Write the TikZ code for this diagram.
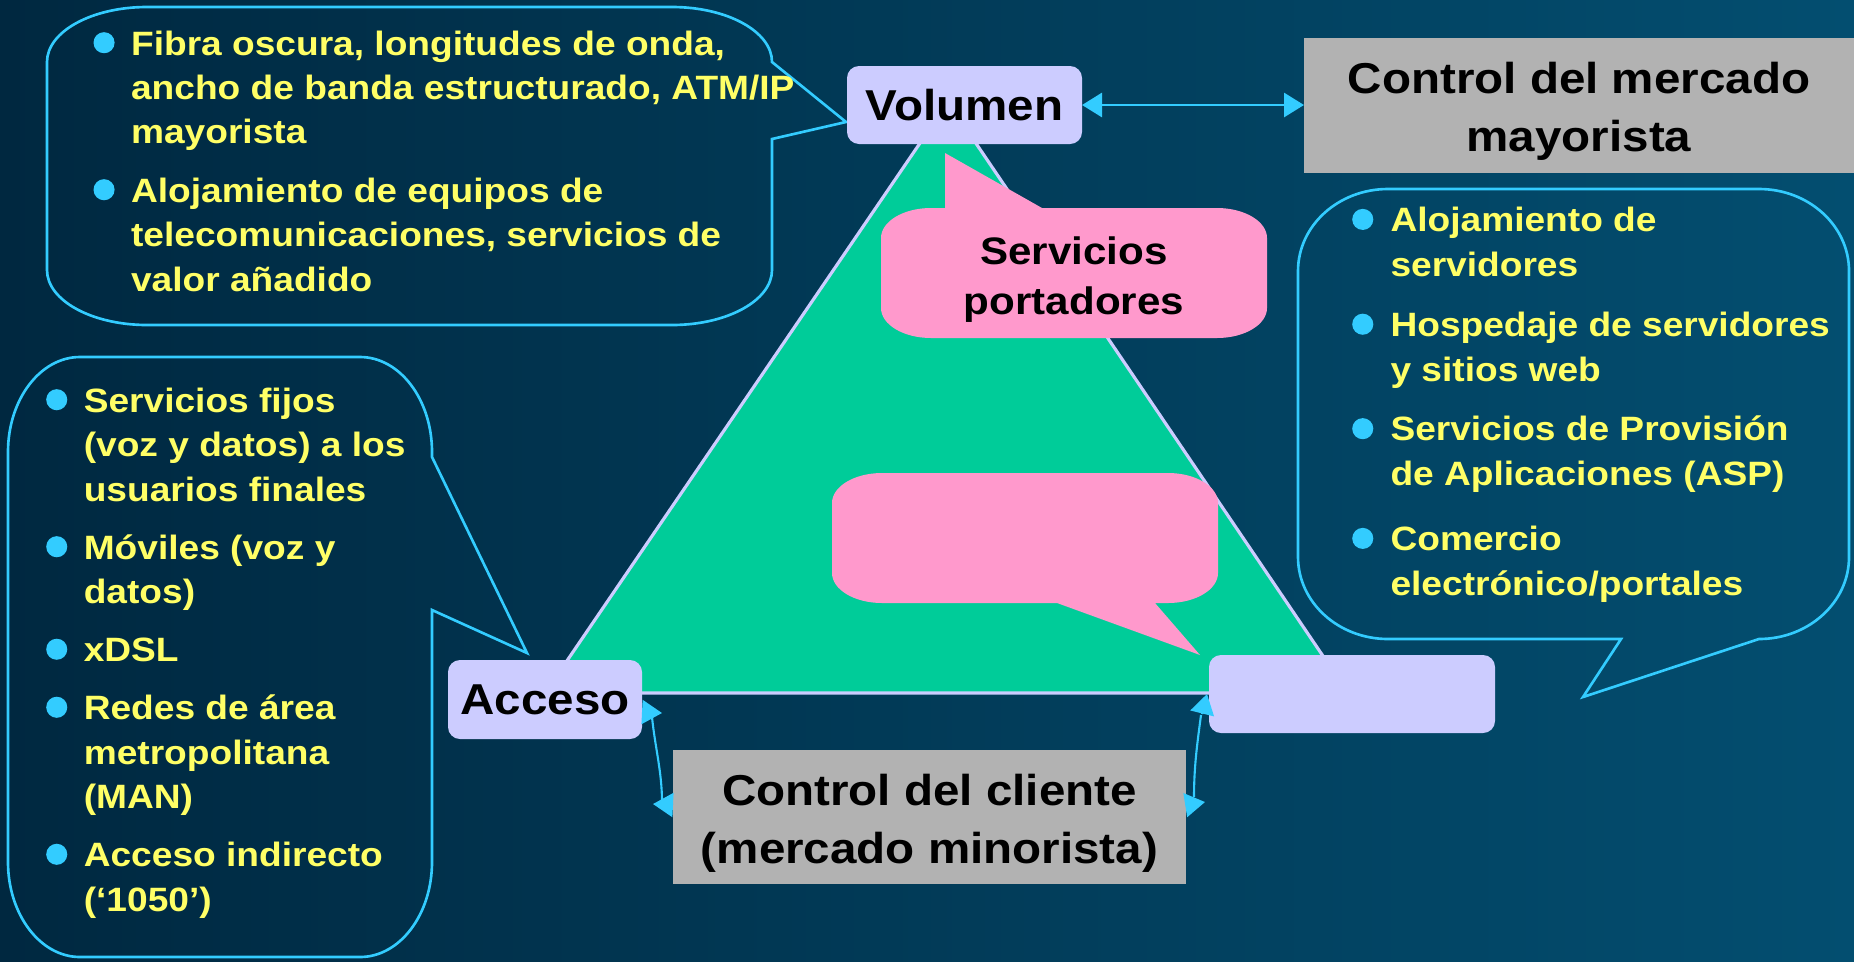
\documentclass[tikz,border=0pt]{standalone}
\usepackage{fontspec}
\setmainfont{Liberation Sans}[FakeStretch=1.1]
\usetikzlibrary{arrows.meta,positioning,calc}
\definecolor{MKbgL}{RGB}{0,40,64}
\definecolor{MKbgR}{RGB}{3,78,112}
\definecolor{MKcyan}{RGB}{51,204,255}
\definecolor{MKyellow}{RGB}{255,255,102}
\definecolor{MKlav}{RGB}{204,204,255}
\definecolor{MKgreen}{RGB}{0,204,153}
\definecolor{MKpink}{RGB}{255,153,204}
\definecolor{MKgray}{RGB}{178,178,178}
\newcommand{\bul}{\tikz[baseline=0pt]\fill[MKcyan] (0,3.5pt) circle (3pt);}
\newcommand{\listfont}{\fontsize{9.6}{12.66}\selectfont\bfseries}
\newcommand{\labfont}{\fontsize{12.3}{16.5}\selectfont\bfseries}
\newcommand{\pinkfont}{\fontsize{10.9}{14.2}\selectfont\bfseries}
\newcommand{\up}{\rule{0pt}{12.7pt}}
\tikzset{
  lavbox/.style={rounded corners=1.2mm,fill=MKlav,draw=none,outer sep=0pt,inner sep=0pt,
                 text=black,align=center,font=\labfont},
  greybox/.style={fill=MKgray,draw=none,outer sep=0pt,inner sep=0pt,
                  text=black,align=center,font=\labfont},
  itemlist/.style={anchor=base west,inner sep=0pt,text=MKyellow,font=\listfont},
  callout/.style={draw=MKcyan,line width=0.75pt},
  bubble/.style={fill=MKpink},
  tri/.style={fill=MKgreen,draw=MKlav,line width=0.9pt},
  lnk/.style={{Triangle[length=2mm,width=2.4mm]}-{Triangle[length=2mm,width=2.4mm]},
              line width=0.85pt,draw=MKcyan},
  lnk0/.style={line width=0.6pt,draw=MKcyan},
  tipr/.style={-{Triangle[length=2mm,width=2.4mm]},line width=0.6pt,draw=MKcyan}
}
\begin{document}
\begin{tikzpicture}
  \useasboundingbox (0,0) rectangle (18.54,-9.61);
  \shade[left color=MKbgL,right color=MKbgR] (0,0) rectangle (18.54,-9.61);

  \draw[tri] (9.48,-1.02) -- (5.45,-6.93) -- (13.48,-6.93) -- cycle;

  \draw[callout] (0.47,-0.62) arc[start angle=180,end angle=90,x radius=1.0,y radius=0.55]
    -- (6.72,-0.07) arc[start angle=90,end angle=0,x radius=1.0,y radius=0.55]
    -- (8.46,-1.22) -- (7.72,-1.39) -- (7.72,-2.70)
    arc[start angle=0,end angle=-90,x radius=1.0,y radius=0.55]
    -- (1.47,-3.25) arc[start angle=270,end angle=180,x radius=1.0,y radius=0.55] -- cycle;
  \draw[callout] (0.08,-4.52) arc[start angle=180,end angle=90,x radius=0.72,y radius=0.95]
    -- (3.60,-3.57) arc[start angle=90,end angle=0,x radius=0.72,y radius=0.95]
    -- (4.32,-4.57) -- (5.27,-6.53) -- (4.32,-6.10) -- (4.32,-8.62)
    arc[start angle=0,end angle=-90,x radius=0.72,y radius=0.95]
    -- (0.80,-9.57) arc[start angle=270,end angle=180,x radius=0.72,y radius=0.95] -- cycle;
  \draw[callout] (12.98,-2.71) arc[start angle=180,end angle=90,x radius=0.9,y radius=0.82]
    -- (17.59,-1.89) arc[start angle=90,end angle=0,x radius=0.9,y radius=0.82]
    -- (18.49,-5.57) arc[start angle=0,end angle=-90,x radius=0.9,y radius=0.82]
    -- (15.83,-6.97) -- (16.21,-6.39) -- (13.88,-6.39)
    arc[start angle=270,end angle=180,x radius=0.9,y radius=0.82] -- cycle;

  \fill[bubble] (8.81,-2.38) arc[start angle=180,end angle=90,x radius=0.5,y radius=0.3]
    -- (9.45,-2.08) -- (9.45,-1.53) -- (10.42,-2.08) -- (12.17,-2.08)
    arc[start angle=90,end angle=0,x radius=0.5,y radius=0.3] -- (12.67,-3.08)
    arc[start angle=0,end angle=-90,x radius=0.5,y radius=0.3] -- (9.31,-3.38)
    arc[start angle=270,end angle=180,x radius=0.5,y radius=0.3] -- cycle;
  \fill[bubble] (8.32,-5.03) arc[start angle=180,end angle=90,x radius=0.5,y radius=0.3]
    -- (11.68,-4.73) arc[start angle=90,end angle=0,x radius=0.5,y radius=0.3] -- (12.18,-5.73)
    arc[start angle=0,end angle=-90,x radius=0.5,y radius=0.3]
    -- (11.55,-6.03) -- (12.00,-6.55) -- (10.57,-6.03) -- (8.82,-6.03)
    arc[start angle=270,end angle=180,x radius=0.5,y radius=0.3] -- cycle;

  \node[font=\pinkfont,align=center,text=black] (portadores) at (10.74,-2.80) {Servicios\\portadores};
  \node[lavbox,minimum width=2.35cm,minimum height=0.78cm] (volumen) at (9.645,-1.05) {Volumen};
  \node[greybox,minimum width=5.50cm,minimum height=1.35cm,right=2.22cm of volumen] (mayorista) {\up Control del mercado\\mayorista};
  \node[lavbox,minimum width=1.94cm,minimum height=0.79cm] (acceso) at (5.45,-6.995) {Acceso};
  \node[lavbox,minimum width=2.86cm,minimum height=0.78cm] (cornerR) at (13.52,-6.94) {};
  \node[greybox,minimum width=5.13cm,minimum height=1.34cm] (cliente) at (9.295,-8.17) {\up Control del cliente\\(mercado minorista)};

  \draw[lnk] (volumen.east) -- (mayorista.west);
  \draw[lnk0] ($(acceso.east)+(0.10,-0.175)$) .. controls +(0.03,-0.3) and +(0,0.3) .. ($(cliente.west)+(-0.11,0.15)$);
  \draw[tipr] ($(acceso.east)+(0,-0.125)$) -- +(0.2,-0.01);
  \draw[tipr] ($(cliente.west)+(0,0.12)$) -- +(-0.2,0.01);
  \draw[lnk0] ($(cornerR.west)+(-0.08,-0.21)$) .. controls +(-0.04,-0.3) and +(0,0.3) .. ($(cliente.east)+(0.08,0.2)$);
  \draw[tipr] ($(cornerR.west)+(-0.07,-0.2)$) -- +(0.05,0.2);
  \draw[tipr] ($(cliente.east)+(0,0.12)$) -- +(0.19,0.03);

  \node[itemlist] (tlList) at (0.928,-0.55) {\begin{tabular}[t]{@{}l@{\hspace{4.7pt}}l@{}}
    \bul & Fibra oscura, longitudes de onda,\\
         & ancho de banda estructurado, ATM/IP\\
         & mayorista\\[3.85pt]
    \bul & Alojamiento de equipos de\\
         & telecomunicaciones, servicios de\\
         & valor añadido
  \end{tabular}};
  \node[itemlist] (blList) at (0.455,-4.12) {\begin{tabular}[t]{@{}l@{\hspace{4.7pt}}l@{}}
    \bul & Servicios fijos\\
         & (voz y datos) a los\\
         & usuarios finales\\[3.85pt]
    \bul & Móviles (voz y\\
         & datos)\\[3.85pt]
    \bul & xDSL\\[3.85pt]
    \bul & Redes de área\\
         & metropolitana\\
         & (MAN)\\[3.85pt]
    \bul & Acceso indirecto\\
         & (‘1050’)
  \end{tabular}};
  \node[itemlist] (rList) at (13.515,-2.317) {\begin{tabular}[t]{@{}l@{\hspace{4.9pt}}l@{}}
    \bul & Alojamiento de\\
         & servidores\\[4.5pt]
    \bul & Hospedaje de servidores\\
         & y sitios web\\[4.4pt]
    \bul & Servicios de Provisión\\
         & de Aplicaciones (ASP)\\[5.9pt]
    \bul & Comercio\\
         & electrónico/portales
  \end{tabular}};
\end{tikzpicture}
\end{document}
